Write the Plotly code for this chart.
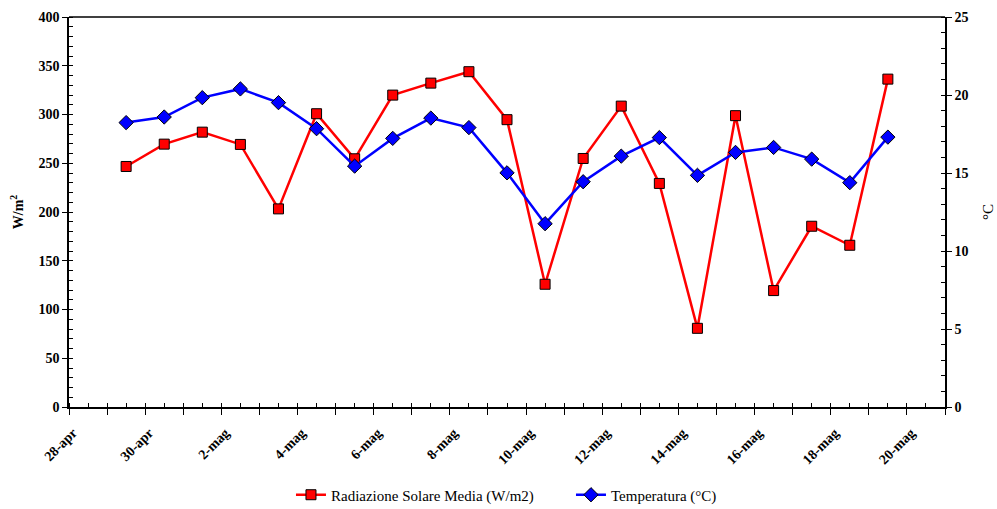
import pandas as pd
import plotly.graph_objects as go

# Data
days = ["2008-04-29", "2008-04-30", "2008-05-01", "2008-05-02", "2008-05-03", "2008-05-04",
        "2008-05-05", "2008-05-06", "2008-05-07", "2008-05-08", "2008-05-09", "2008-05-10",
        "2008-05-11", "2008-05-12", "2008-05-13", "2008-05-14", "2008-05-15", "2008-05-16",
        "2008-05-17", "2008-05-18", "2008-05-19"]
radiazione = [246.7, 269.6, 281.9, 269.3, 203.2, 300.8, 254.6, 319.9, 332.2, 343.9, 294.7,
              125.9, 254.9, 308.6, 229.3, 80.7, 298.8, 119.4, 185.4, 165.9, 336.3]
temperatura = [18.23, 18.59, 19.83, 20.39, 19.51, 17.84, 15.44, 17.22, 18.52, 17.91, 15.01,
               11.75, 14.44, 16.08, 17.27, 14.85, 16.32, 16.64, 15.89, 14.38, 17.30]

label_days = pd.date_range("2008-04-28", "2008-05-20", freq="2D")
tick_labels = ["28-apr", "30-apr", "2-mag", "4-mag", "6-mag", "8-mag", "10-mag", "12-mag",
               "14-mag", "16-mag", "18-mag", "20-mag"]
tick_days = pd.date_range("2008-04-28", "2008-05-21", freq="D")
x_range = [tick_days[0], tick_days[-1]]

x = pd.to_datetime(days) + pd.Timedelta(hours=12)

serif = "Liberation Serif, Times New Roman, serif"
black = "#000000"

fig = go.Figure()
fig.add_trace(go.Scatter(
    x=x, y=radiazione, name="Radiazione Solare Media (W/m2)", mode="lines+markers",
    line=dict(color="#ff0000", width=2.5),
    marker=dict(symbol="square", size=10, color="#ff0000", line=dict(color=black, width=1)),
    xaxis="x", yaxis="y"))
fig.add_trace(go.Scatter(
    x=x, y=temperatura, name="Temperatura (°C)", mode="lines+markers",
    line=dict(color="#0000ff", width=2.5),
    marker=dict(symbol="diamond", size=11, color="#0000ff", line=dict(color=black, width=1)),
    xaxis="x2", yaxis="y2"))

fig.update_layout(
    width=997, height=509,
    margin=dict(l=69, r=52, t=17, b=102, autoexpand=False),
    paper_bgcolor="white", plot_bgcolor="white",
    font=dict(family=serif, color=black),
    showlegend=True,
    legend=dict(orientation="h", x=0.2534, xanchor="left", y=-0.2256, yanchor="middle",
                font=dict(family=serif, size=15, color=black),
                itemwidth=30, entrywidthmode="pixels", entrywidth=235,
                bgcolor="rgba(0,0,0,0)"),
    xaxis=dict(
        type="date", range=x_range, automargin=False,
        tickmode="array", tickvals=tick_days, showticklabels=False,
        ticks="outside", ticklen=6, tickwidth=1, tickcolor=black,
        minor=dict(ticks="inside", ticklen=4, tickwidth=1, tickcolor=black,
                   dtick=43200000, tick0="2008-04-28"),
        showline=True, linecolor=black, linewidth=1.5,
        showgrid=False, zeroline=False,
    ),
    xaxis2=dict(
        type="date", range=x_range, overlaying="x", anchor="y2", side="bottom", automargin=False,
        tickmode="array", tickvals=label_days, ticktext=tick_labels,
        tickangle=-45, tickfont=dict(family=serif, size=14, color=black, weight="bold"),
        ticks="", showline=False, showgrid=False, zeroline=False,
        ticklabelstandoff=14, ticklabelshift=4,
    ),
    yaxis=dict(
        range=[0, 400], tickmode="linear", tick0=0, dtick=50, automargin=False,
        tickfont=dict(family=serif, size=14, color=black, weight="bold"),
        ticks="outside", ticklen=5, tickwidth=1, tickcolor=black,
        minor=dict(ticks="inside", ticklen=4, tickwidth=1, tickcolor=black, dtick=10),
        showline=True, linecolor=black, linewidth=1.5,
        showgrid=False, zeroline=False,
        title=dict(text="W/m<sup>2</sup>", font=dict(family=serif, size=14, color=black, weight="bold"),
                   standoff=12),
    ),
    yaxis2=dict(
        range=[0, 25], tickmode="linear", tick0=0, dtick=5, overlaying="y", side="right",
        anchor="x2", automargin=False,
        tickfont=dict(family=serif, size=14, color=black, weight="bold"),
        ticks="outside", ticklen=5, tickwidth=1, tickcolor=black,
        minor=dict(ticks="inside", ticklen=4, tickwidth=1, tickcolor=black, dtick=1),
        showline=True, linecolor=black, linewidth=1.5,
        showgrid=False, zeroline=False,
        title=dict(text="°C", font=dict(family=serif, size=15, color=black), standoff=15),
    ),
    shapes=[dict(type="line", xref="paper", yref="paper", x0=0, x1=1, y0=1, y1=1,
                 line=dict(color=black, width=1.5))],
)

fig.write_html("out.html")
